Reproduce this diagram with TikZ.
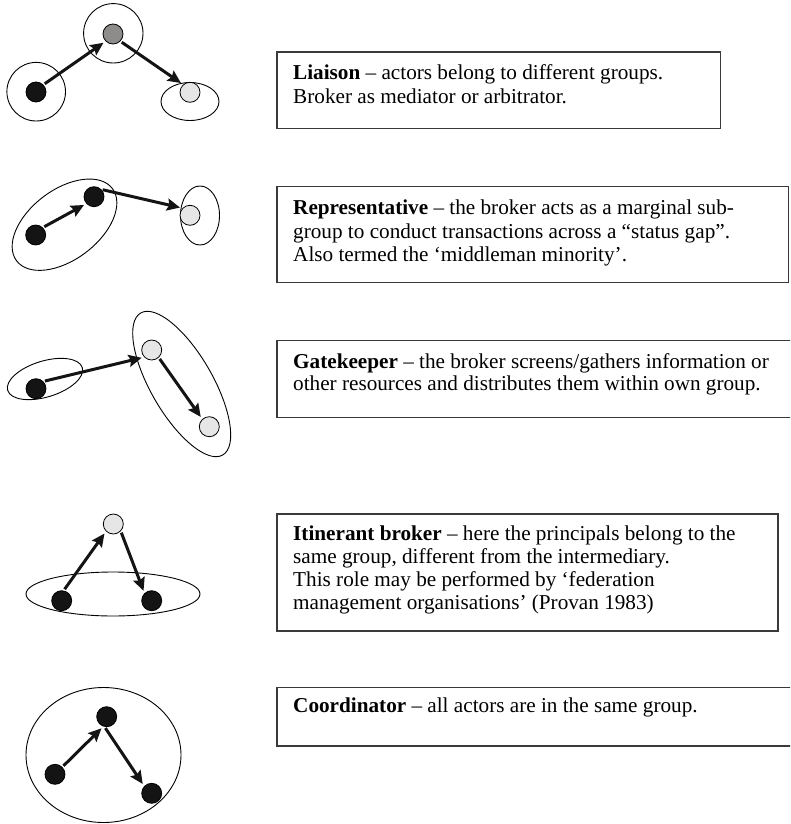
\documentclass[tikz,border=0pt]{standalone}
\usepackage{fontspec}
\setmainfont{Liberation Serif}
\usetikzlibrary{arrows.meta,shapes.geometric}
\definecolor{actorblack}{HTML}{141414}
\definecolor{actorgray}{HTML}{8E8B8B}
\definecolor{actorlight}{HTML}{E6E6E6}
\definecolor{boxline}{HTML}{3A3A3A}

\begin{document}
\begin{tikzpicture}[x=1pt,y=-1pt,
  actor/.style={circle, draw=black, line width=0.8pt, minimum size=20pt, inner sep=0pt, outer sep=0pt},
  blk/.style={actor, fill=actorblack},
  mid/.style={actor, fill=actorgray},
  lgt/.style={actor, fill=actorlight},
  grp/.style={ellipse, draw=black, line width=0.9pt, inner sep=0pt, outer sep=0pt},
  flow/.style={line width=3pt, draw=actorblack, -{Stealth[length=13pt,width=12pt,inset=2pt]}, shorten >=3pt, shorten <=2pt},
  desc/.style={draw=boxline, line width=1.3pt, inner sep=0pt, outer sep=0pt, anchor=north west},
  txt/.style={anchor=base west, inner sep=0pt, font=\fontsize{21.2}{23}\selectfont}
]
\useasboundingbox (0,0) rectangle (790,824);
\clip (0,0) rectangle (790,824);

% ---------- Liaison ----------
\node[grp, minimum width=58.6pt, minimum height=58.6pt] (lgA) at (36.2,91.7) {};
\node[grp, minimum width=59.4pt, minimum height=59.4pt] (lgB) at (113.3,33.3) {};
\node[grp, minimum width=58pt, minimum height=38pt] (lgC) at (190,101.5) {};
\node[blk] (l1) at (36,92) {};
\node[mid] (l2) at (113,34) {};
\node[lgt] (l3) at (190,92.3) {};
\draw[flow] (l1.45) -- (l2.225);
\draw[flow] (l2.-45) -- (l3.131);

% ---------- Representative ----------
\node[grp, minimum width=120pt, minimum height=70pt, rotate=37] (rgA) at (64.5,224.7) {};
\node[grp, minimum width=39pt, minimum height=59pt] (rgB) at (200,215.5) {};
\node[blk] (r1) at (35.7,235) {};
\node[blk] (r2) at (94,196.7) {};
\node[lgt] (r3) at (190,215.3) {};
\draw[flow] (r1.47) -- (r2.223);
\draw[flow] (r2.48) -- (r3.135);

% ---------- Gatekeeper ----------
\node[grp, minimum width=78pt, minimum height=36pt, rotate=17] (ggA) at (45,379) {};
\node[grp, minimum width=164pt, minimum height=62pt, rotate=-60] (ggB) at (181.7,384) {};
\node[blk] (g1) at (36,388.7) {};
\node[lgt] (ga) at (151.7,350) {};
\node[lgt] (gb) at (209.3,426.7) {};
\draw[flow] (g1.46) -- (ga.225);
\draw[flow] (ga.-47) -- (gb.133);

% ---------- Itinerant broker ----------
\node[grp, minimum width=174pt, minimum height=44pt] (igA) at (113,594) {};
\node[lgt] (i1) at (113.3,524) {};
\node[blk] (i2) at (61.7,600.7) {};
\node[blk] (i3) at (151.7,600.7) {};
\draw[flow] (i2.80) -- (i1.225);
\draw[flow] (i1.-43) -- (i3.135);

% ---------- Coordinator ----------
\node[grp, minimum width=155pt, minimum height=135pt] (cgA) at (103.5,755) {};
\node[blk] (c1) at (106.7,716.7) {};
\node[blk] (c2) at (55,774.3) {};
\node[blk] (c3) at (151.7,793.3) {};
\draw[flow] (c2.45) -- (c1.252);
\draw[flow] (c1.256) -- (c3.137);

% ---------- Description boxes ----------
\node[desc, minimum width=443.7pt, minimum height=76.3pt] (b1) at (277,52) {};
\node[txt] (t11) at (293,80) {\textbf{Liaison} – actors belong to different groups.};
\node[txt] (t12) at (293,103) {Broker as mediator or arbitrator.};

\node[desc, minimum width=511.3pt, minimum height=96pt] (b2) at (277,186.7) {};
\node[txt] (t21) at (293,214) {\textbf{Representative} – the broker acts as a marginal sub-};
\node[txt] (t22) at (293,238) {group to conduct transactions across a “status gap”.};
\node[txt] (t23) at (293,261.7) {Also termed the ‘middleman minority’.};

\node[desc, minimum width=515pt, minimum height=76.6pt] (b3) at (277,340.7) {};
\node[txt] (t31) at (293,368.3) {\textbf{Gatekeeper} – the broker screens/gathers information or};
\node[txt] (t32) at (293,390.7) {other resources and distributes them within own group.};

\node[desc, minimum width=501pt, minimum height=117pt] (b4) at (277,514) {};
\node[txt] (t41) at (293,540.7) {\textbf{Itinerant broker} – here the principals belong to the};
\node[txt] (t42) at (293,563.5) {same group, different from the intermediary.};
\node[txt] (t43) at (293,586.5) {This role may be performed by ‘federation};
\node[txt] (t44) at (293,609.3) {management organisations’ (Provan 1983)};

\node[desc, minimum width=515pt, minimum height=58.7pt] (b5) at (277,687.3) {};
\node[txt] (t51) at (293,712) {\textbf{Coordinator} – all actors are in the same group.};
\end{tikzpicture}
\end{document}
